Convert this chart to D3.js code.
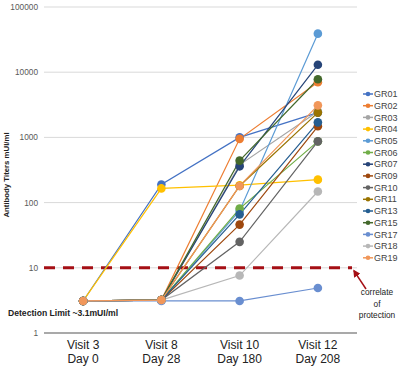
<!DOCTYPE html>
<html>
<head>
<meta charset="utf-8">
<script src="https://cdn.jsdelivr.net/npm/d3@7"></script>
<style>
  body { margin: 0; background: #fff; }
  text { font-family: "Liberation Sans", Arial, sans-serif; }
</style>
</head>
<body>
<div id="chart"></div>
<script>
// Visits on the x axis (two-line labels)
const visitLabels = ["Visit 3", "Visit 8", "Visit 10", "Visit 12"];
const dayLabels = ["Day 0", "Day 28", "Day 180", "Day 208"];

// Subjects and their series colours
const subjects = ["GR01", "GR02", "GR03", "GR04", "GR05", "GR06", "GR07", "GR09",
                  "GR10", "GR11", "GR13", "GR15", "GR17", "GR18", "GR19"];
const colors = ["#4472c4", "#ed7d31", "#a5a5a5", "#ffc000", "#5b9bd5", "#70ad47", "#264478", "#9e480e",
                "#636363", "#997300", "#255e91", "#43682b", "#698ed0", "#b7b7b7", "#f1975a"];

// Antibody titers (mUI/ml) per subject at each visit
const gr01 = [3.1, 190, 1000, 2400];
const gr02 = [3.1, 3.2, 950, 7000];
const gr03 = [3.1, 3.2, 380, 2500];
const gr04 = [3.1, 165, 185, 225];
const gr05 = [3.1, 3.2, 75, 39000];
const gr06 = [3.1, 3.2, 81, 870];
const gr07 = [3.1, 3.2, 360, 13000];
const gr09 = [3.1, 3.2, 46, 1480];
const gr10 = [3.1, 3.2, 25, 870];
const gr11 = [3.1, 3.2, 180, 2400];
const gr13 = [3.1, 3.2, 66, 1700];
const gr15 = [3.1, 3.2, 440, 7800];
const gr17 = [3.1, 3.1, 3.1, 4.9];
const gr18 = [3.1, 3.2, 7.6, 148];
const gr19 = [3.1, 3.2, 180, 3100];
const titers = [gr01, gr02, gr03, gr04, gr05, gr06, gr07, gr09, gr10, gr11, gr13, gr15, gr17, gr18, gr19];

const yTicks = [1, 10, 100, 1000, 10000, 100000];
const protectionLevel = 10;
const detectionLimit = 3.1;

const width = 400, height = 367;
const margin = {top: 7, right: 43, bottom: 34, left: 44};

const svg = d3.select("#chart").append("svg")
    .attr("width", width)
    .attr("height", height);

const x = d3.scalePoint()
    .domain(visitLabels)
    .range([margin.left, width - margin.right])
    .padding(0.5);

const y = d3.scaleLog()
    .domain([1, 100000])
    .range([height - margin.bottom, margin.top]);

// Gridlines
svg.append("g")
    .selectAll("line")
    .data(yTicks.slice(1))
    .join("line")
    .attr("x1", margin.left)
    .attr("x2", width - margin.right)
    .attr("y1", d => y(d))
    .attr("y2", d => y(d))
    .attr("stroke", "#d9d9d9")
    .attr("stroke-width", 1);

// Bottom axis line
svg.append("line")
    .attr("x1", margin.left)
    .attr("x2", width - margin.right)
    .attr("y1", y(1))
    .attr("y2", y(1))
    .attr("stroke", "#8c8c8c")
    .attr("stroke-width", 1.5);

// Y tick labels
svg.append("g")
    .selectAll("text")
    .data(yTicks)
    .join("text")
    .attr("x", margin.left - 6)
    .attr("y", d => y(d))
    .attr("dy", "0.35em")
    .attr("text-anchor", "end")
    .attr("font-size", 8.3)
    .attr("fill", "#595959")
    .text(d => d);

// Y axis title
svg.append("text")
    .attr("transform", `translate(9,${(y(1) + y(100000)) / 2 + 5}) rotate(-90)`)
    .attr("text-anchor", "middle")
    .attr("font-size", 7.8)
    .attr("font-weight", "bold")
    .attr("fill", "#222")
    .text("Antibody Titers mUI/ml");

// X labels
const xLab = svg.append("g")
    .selectAll("text")
    .data(visitLabels)
    .join("text")
    .attr("text-anchor", "middle")
    .attr("font-size", 12)
    .attr("fill", "#222");
xLab.append("tspan")
    .attr("x", d => x(d))
    .attr("y", 349)
    .text(d => d);
xLab.append("tspan")
    .attr("x", d => x(d))
    .attr("y", 363)
    .text((d, i) => dayLabels[i]);

// Correlate of protection line
svg.append("line")
    .attr("x1", margin.left)
    .attr("x2", 352)
    .attr("y1", y(protectionLevel))
    .attr("y2", y(protectionLevel))
    .attr("stroke", "#a50f15")
    .attr("stroke-width", 3)
    .attr("stroke-dasharray", "11,8");

// Series lines
const line = d3.line()
    .x((d, i) => x(visitLabels[i]))
    .y(d => y(d));

svg.append("g")
    .attr("fill", "none")
    .attr("stroke-width", 1.2)
    .selectAll("path")
    .data(titers)
    .join("path")
    .attr("stroke", (d, i) => colors[i])
    .attr("d", line);

// Series markers
svg.append("g")
    .selectAll("g")
    .data(titers)
    .join("g")
    .attr("fill", (d, i) => colors[i])
    .selectAll("circle")
    .data(d => d)
    .join("circle")
    .attr("cx", (d, i) => x(visitLabels[i]))
    .attr("cy", d => y(d))
    .attr("r", 4.3);

// Detection limit label
svg.append("text")
    .attr("x", 8)
    .attr("y", y(detectionLimit) + 15)
    .attr("font-size", 8.6)
    .attr("font-weight", "bold")
    .attr("fill", "#222")
    .text("Detection Limit ~3.1mUI/ml");

// Arrow + annotation
svg.append("defs").append("marker")
    .attr("id", "arrow")
    .attr("viewBox", "0 0 10 10")
    .attr("refX", 8)
    .attr("refY", 5)
    .attr("markerWidth", 5)
    .attr("markerHeight", 5)
    .attr("orient", "auto")
    .append("path")
    .attr("d", "M0,0L10,5L0,10z")
    .attr("fill", "#a50f15");

svg.append("line")
    .attr("x1", 366)
    .attr("y1", 289)
    .attr("x2", 354)
    .attr("y2", y(protectionLevel) + 3)
    .attr("stroke", "#a50f15")
    .attr("stroke-width", 1.5)
    .attr("marker-end", "url(#arrow)");

svg.append("g")
    .selectAll("text")
    .data(["correlate", "of", "protection"])
    .join("text")
    .attr("x", 377)
    .attr("y", (d, i) => 295 + i * 11.5)
    .attr("text-anchor", "middle")
    .attr("font-size", 8.3)
    .attr("fill", "#222")
    .text(d => d);

// Legend
const legend = svg.append("g")
    .selectAll("g")
    .data(subjects)
    .join("g")
    .attr("transform", (d, i) => `translate(363,${94 + i * 11.7})`);

legend.append("line")
    .attr("x1", 0)
    .attr("x2", 10)
    .attr("stroke", (d, i) => colors[i])
    .attr("stroke-width", 1.5);

legend.append("circle")
    .attr("cx", 5)
    .attr("r", 2.3)
    .attr("fill", (d, i) => colors[i]);

legend.append("text")
    .attr("x", 11)
    .attr("dy", "0.35em")
    .attr("font-size", 9)
    .attr("fill", "#444")
    .text(d => d);
</script>
</body>
</html>
